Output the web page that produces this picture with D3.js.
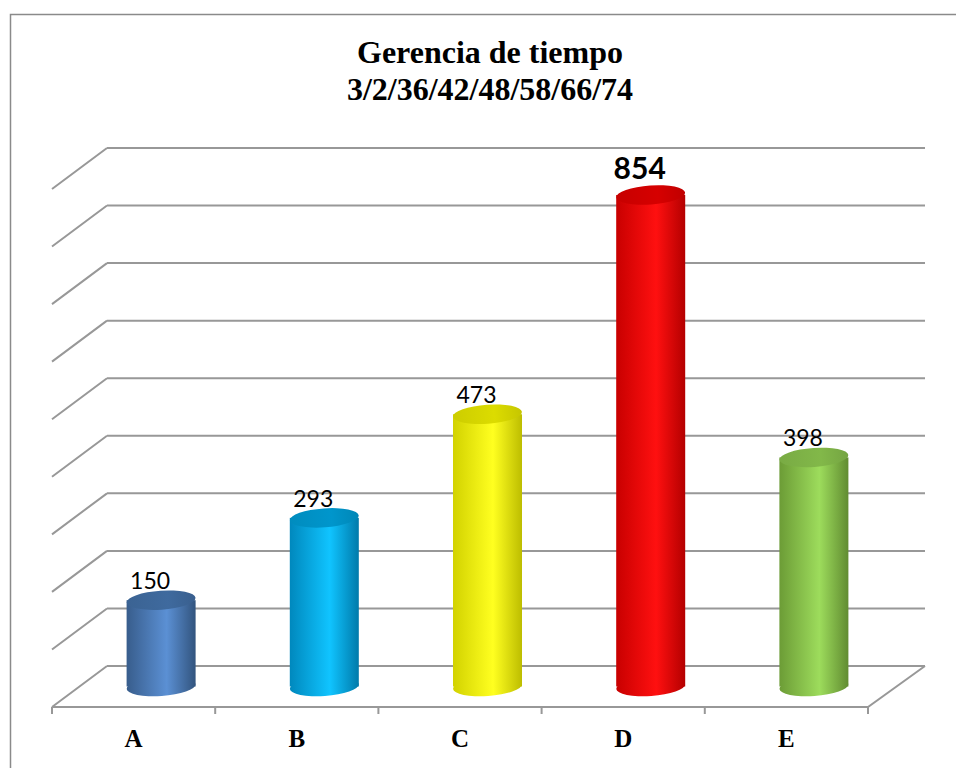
<!DOCTYPE html>
<html>
<head>
<meta charset="utf-8">
<script src="https://cdn.jsdelivr.net/npm/d3@7"></script>
<style>
  body { margin: 0; background: #fff; }
</style>
</head>
<body>
<script>
const categories = ["A", "B", "C", "D", "E"];
const values = [150, 293, 473, 854, 398];
const yTicks = [0, 100, 200, 300, 400, 500, 600, 700, 800, 900];
const titleLines = ["Gerencia de tiempo", "3/2/36/42/48/58/66/74"];
// edge / light / top colours per bar
const barEdge = ["#385d8c", "#0088bd", "#d2d200", "#c80000", "#6c9c36"];
const barLight = ["#5b90d4", "#10c4ff", "#ffff20", "#ff1010", "#9ddc5c"];
const barTop = ["#3f6a9e", "#0096cc", "#dcdc00", "#d60000", "#82b849"];
const boldLabel = [false, false, false, true, false];

const W = 956, H = 768;
const depthX = -55, depthY = 41;   // back wall -> front edge

const svg = d3.select("body").append("svg")
    .attr("width", W)
    .attr("height", H);

// chart border (runs past the window on right/bottom)
svg.append("rect")
    .attr("x", 10.5).attr("y", 14.5)
    .attr("width", 1200).attr("height", 1000)
    .attr("fill", "none")
    .attr("stroke", "#8a8a8a")
    .attr("stroke-width", 1.5);

// scales: x on the front edge, y on the back wall
const x = d3.scaleBand().domain(categories).range([52, 868]);
const y = d3.scaleLinear().domain([0, 900]).range([666, 148]);
const backLeft = 107, backRight = 925;

const grid = svg.append("g")
    .attr("fill", "none")
    .attr("stroke", "#989898")
    .attr("stroke-width", 2);

yTicks.forEach(t => {
    grid.append("path")
        .attr("d", `M${backLeft},${y(t)}L${backRight},${y(t)}M${backLeft},${y(t)}L${backLeft + depthX},${y(t) + depthY}`);
});

// floor front edge + right side
const floorY = y(0) + depthY;
grid.append("path")
    .attr("d", `M${x.range()[0]},${floorY}L${x.range()[1]},${floorY}L${backRight},${y(0)}`);

// category tick marks at band boundaries
const bounds = categories.map(c => x(c)).concat([x.range()[1]]);
grid.selectAll(".tick")
    .data(bounds)
    .join("path")
    .attr("d", d => `M${d},${floorY}L${d},${floorY + 7}`);

// category labels
svg.append("g")
    .selectAll("text")
    .data(categories)
    .join("text")
    .attr("x", d => x(d) + x.bandwidth() / 2)
    .attr("y", 747)
    .attr("text-anchor", "middle")
    .style("font-family", "'Liberation Serif', 'Times New Roman', serif")
    .style("font-weight", "bold")
    .style("font-size", "25px")
    .text(d => d);

// gradients
const defs = svg.append("defs");
const rx = 34.5, ry = 9.5, tilt = -4;
const midX = c => x(c) + x.bandwidth() / 2 - depthX / 2;
const midY = v => y(v) + depthY / 2;

categories.forEach((c, i) => {
    const cx = midX(c);
    const g = defs.append("linearGradient")
        .attr("id", "body" + i)
        .attr("gradientUnits", "userSpaceOnUse")
        .attr("x1", cx - rx).attr("x2", cx + rx)
        .attr("y1", 0).attr("y2", 0);
    g.append("stop").attr("offset", 0).attr("stop-color", barEdge[i]);
    g.append("stop").attr("offset", 0.58).attr("stop-color", barLight[i]);
    g.append("stop").attr("offset", 1).attr("stop-color", d3.color(barEdge[i]).darker(0.3));

    const t = defs.append("linearGradient")
        .attr("id", "top" + i)
        .attr("gradientUnits", "userSpaceOnUse")
        .attr("x1", cx - rx).attr("x2", cx + rx)
        .attr("y1", 0).attr("y2", 0);
    t.append("stop").attr("offset", 0).attr("stop-color", d3.color(barTop[i]).darker(0.2));
    t.append("stop").attr("offset", 0.6).attr("stop-color", barTop[i]);
    t.append("stop").attr("offset", 1).attr("stop-color", d3.color(barTop[i]).darker(0.3));
});

// cylinders
const bars = svg.append("g")
    .selectAll("g")
    .data(categories)
    .join("g");

bars.each(function(c, i) {
    const g = d3.select(this);
    const cx = midX(c);
    const top = midY(values[i]);
    const bottom = midY(0);

    g.append("ellipse")
        .attr("cx", cx).attr("cy", bottom)
        .attr("rx", rx).attr("ry", ry)
        .attr("transform", `rotate(${tilt},${cx},${bottom})`)
        .attr("fill", `url(#body${i})`);
    g.append("rect")
        .attr("x", cx - rx).attr("y", top)
        .attr("width", rx * 2).attr("height", bottom - top)
        .attr("fill", `url(#body${i})`);
    g.append("ellipse")
        .attr("cx", cx).attr("cy", top)
        .attr("rx", rx).attr("ry", ry)
        .attr("transform", `rotate(${tilt},${cx},${top})`)
        .attr("fill", `url(#top${i})`);
});

// value labels
svg.append("g")
    .selectAll("text")
    .data(categories)
    .join("text")
    .attr("x", c => midX(c) - 11)
    .attr("y", (c, i) => midY(values[i]) - (boldLabel[i] ? 16 : 11))
    .attr("text-anchor", "middle")
    .style("font-family", "Lato, 'Open Sans', sans-serif")
    .style("font-weight", (c, i) => boldLabel[i] ? "bold" : "normal")
    .style("font-size", (c, i) => boldLabel[i] ? "30px" : "23px")
    .attr("fill", "#000")
    .text((c, i) => values[i]);

// title
svg.append("g")
    .selectAll("text")
    .data(titleLines)
    .join("text")
    .attr("x", 490)
    .attr("y", (d, i) => 63 + i * 37)
    .attr("text-anchor", "middle")
    .style("font-family", "'Liberation Serif', 'Times New Roman', serif")
    .style("font-weight", "bold")
    .style("font-size", "32px")
    .text(d => d);
</script>
</body>
</html>
